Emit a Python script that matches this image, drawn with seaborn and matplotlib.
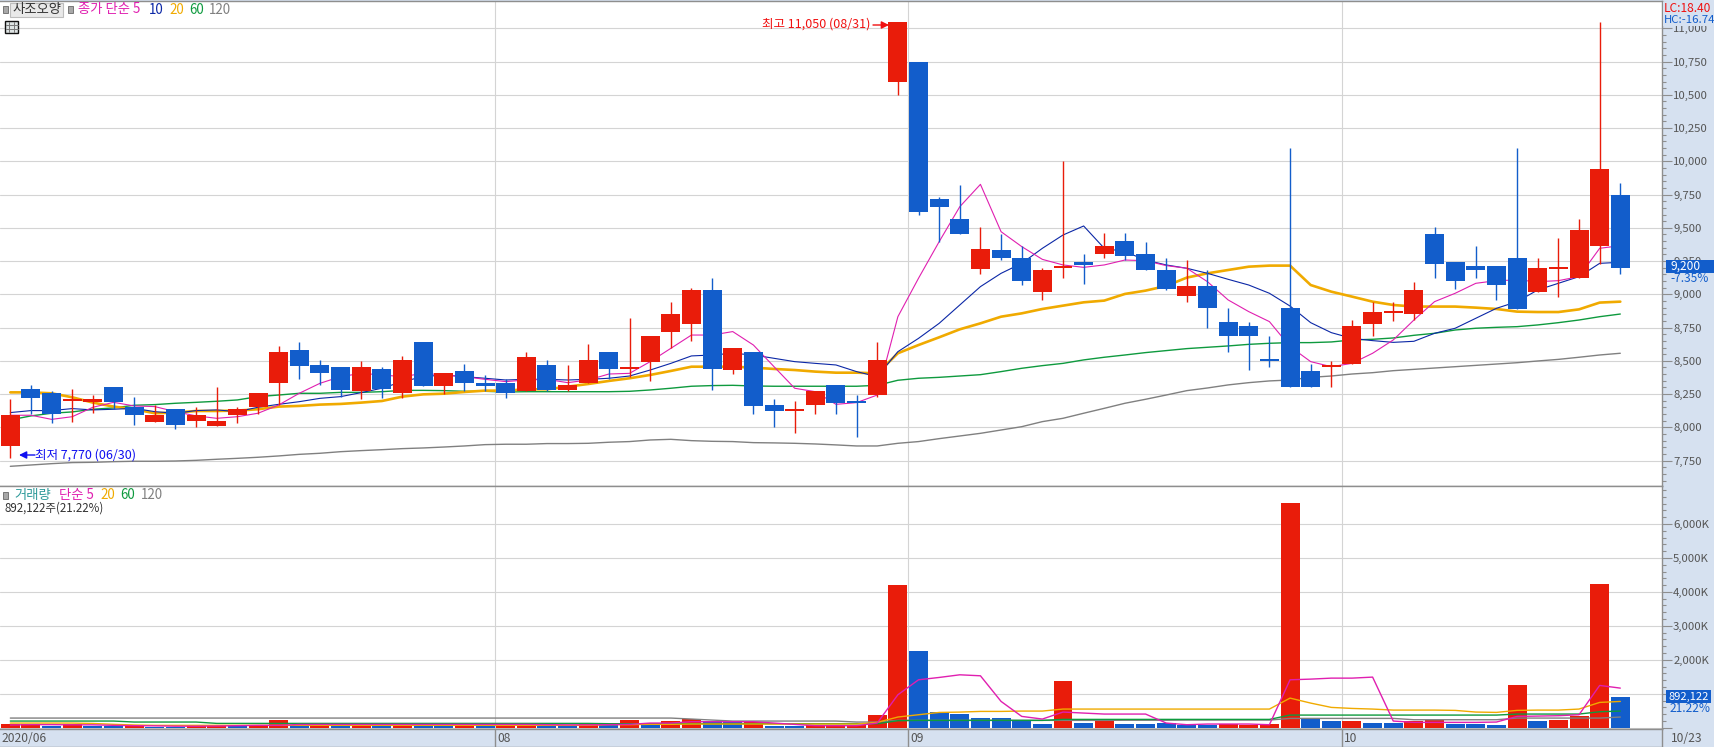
import matplotlib
matplotlib.use("Agg")
import matplotlib.pyplot as plt
from matplotlib.lines import Line2D
from matplotlib.patches import Rectangle, FancyArrowPatch
from matplotlib.ticker import FuncFormatter, MultipleLocator
import numpy as np
import pandas as pd
import seaborn as sns

opens = [7860,8290,8260,8200,8190,8300,8150,8040,8140,8050,8010,8090,8150,8330,8580,8470,8450,8270,8440,8260,
         8640,8310,8420,8330,8330,8270,8470,8280,8330,8570,8440,8490,8720,8780,9030,8430,8570,8170,8120,8170,
         8320,8200,8240,10600,10750,9720,9570,9190,9330,9270,9020,9200,9240,9300,9400,9300,9180,8990,9060,8790,
         8760,8510,8900,8420,8450,8480,8780,8860,8850,9450,9240,9210,9210,9270,9020,9190,9120,9360,9750]
closes = [8090,8220,8100,8210,8210,8190,8090,8090,8020,8090,8050,8140,8260,8570,8460,8410,8280,8450,8290,8510,
          8310,8410,8330,8310,8260,8530,8280,8320,8510,8440,8450,8690,8850,9030,8440,8600,8160,8120,8140,8270,
          8180,8180,8510,11050,9620,9660,9450,9340,9270,9100,9180,9210,9220,9360,9290,9180,9040,9060,8900,8690,
          8690,8500,8300,8300,8470,8760,8870,8870,9030,9230,9100,9180,9070,8890,9200,9200,9480,9940,9200]
highs = [8210,8320,8270,8290,8240,8300,8230,8170,8140,8150,8300,8150,8260,8610,8640,8510,8450,8500,8450,8540,
         8640,8410,8480,8390,8360,8570,8510,8470,8630,8570,8820,8690,8940,9050,9120,8600,8570,8210,8200,8270,
         8320,8240,8640,11050,10750,9730,9820,9510,9450,9360,9200,10000,9300,9460,9460,9390,9270,9260,9180,8900,
         8790,8690,10100,8480,8500,8810,8940,8940,9090,9510,9240,9360,9210,10100,9270,9420,9570,11050,9840]
lows = [7770,8100,8030,8040,8110,8140,8020,8040,7990,8000,8010,8030,8100,8170,8360,8320,8230,8210,8220,8220,
        8310,8250,8270,8270,8220,8270,8270,8270,8330,8360,8380,8350,8600,8650,8280,8400,8100,8000,7960,8100,
        8100,7930,8230,10500,9600,9390,9450,9150,9260,9070,8960,9120,9080,9270,9260,9180,9030,8940,8750,8570,
        8430,8450,8300,8300,8300,8480,8690,8800,8810,9120,9040,9120,8960,8890,9020,8980,9120,9230,9150]

ma5 = [8091,8091,8060,8080,8151,8188,8161,8156,8118,8086,8068,8080,8106,8168,8256,8331,8381,8406,8394,8381,
       8406,8394,8381,8361,8344,8356,8361,8336,8356,8401,8406,8494,8594,8694,8694,8720,8619,8456,8294,8268,
       8173,8186,8243,8832,9121,9396,9659,9827,9471,9359,9263,9221,9203,9221,9258,9253,9216,9196,9095,8958,
       8870,8795,8607,8494,8456,8481,8557,8657,8807,8945,9008,9083,9103,9108,9095,9103,9133,9346,9366]
ma10 = [8111,8126,8126,8141,8131,8136,8143,8118,8106,8126,8131,8118,8151,8173,8193,8218,8231,8261,8294,8344,
        8381,8394,8381,8369,8356,8361,8361,8356,8361,8369,8386,8431,8481,8537,8544,8557,8544,8519,8494,8481,
        8469,8419,8381,8569,8669,8782,8920,9058,9158,9233,9346,9446,9514,9346,9321,9258,9221,9196,9158,9113,
        9070,9008,8912,8787,8712,8669,8652,8639,8647,8707,8745,8820,8895,8945,9033,9083,9133,9233,9241]
ma20 = [8263,8263,8256,8226,8186,8156,8136,8106,8111,8123,8123,8126,8136,8156,8161,8171,8176,8186,8198,8231,
        8248,8253,8266,8276,8276,8286,8286,8306,8326,8349,8369,8394,8424,8456,8456,8456,8449,8439,8431,8419,
        8411,8411,8406,8557,8619,8677,8737,8782,8832,8857,8890,8915,8940,8953,9003,9028,9063,9126,9158,9183,
        9208,9216,9216,9070,9020,8983,8945,8920,8908,8908,8908,8900,8890,8870,8867,8867,8887,8938,8945]
ma60 = [8056,8086,8106,8116,8136,8146,8166,8171,8181,8188,8196,8206,8231,8243,8256,8256,8263,8263,8268,8278,
        8278,8276,8271,8271,8266,8268,8268,8268,8268,8268,8271,8281,8294,8309,8314,8316,8311,8309,8309,8309,
        8309,8309,8316,8354,8369,8376,8386,8396,8419,8444,8464,8481,8507,8527,8544,8562,8577,8592,8602,8612,
        8624,8632,8637,8637,8642,8657,8662,8672,8692,8707,8732,8745,8752,8757,8770,8787,8807,8832,8852]
ma120 = [7707,7717,7727,7735,7737,7742,7745,7745,7747,7752,7760,7767,7775,7785,7797,7805,7817,7825,7832,7840,
         7845,7852,7860,7870,7873,7873,7878,7878,7880,7888,7893,7905,7910,7900,7895,7893,7885,7883,7880,7875,
         7868,7860,7860,7880,7893,7915,7935,7955,7980,8005,8043,8068,8106,8143,8181,8211,8243,8276,8296,8319,
         8336,8349,8356,8376,8386,8401,8411,8426,8436,8446,8456,8466,8476,8486,8499,8511,8527,8544,8557]

volumes = [118,118,59,118,59,59,59,30,30,59,90,59,59,235,59,59,59,118,59,59,
           59,118,59,59,59,118,59,59,118,118,235,118,206,255,206,176,176,59,59,88,
           88,88,382,4200,2264,460,412,294,294,206,118,1382,147,235,118,118,137,88,88,108,
           69,118,6610,274,206,206,147,147,206,235,118,118,88,1264,206,235,353,4234,892]
vol_dir = list("RRBRBBRBBRRBRRBRBRBRBBRBRRBBRBRBRRBBRBBRRRRRBBBBBBBRBRBBBBBRRRRBBRBBRRBBBRBRRRB")
vma5 = [80,90,90,85,85,70,60,55,45,45,50,60,70,70,95,98,98,98,98,98,
        98,98,98,98,98,98,90,85,85,90,98,137,137,176,176,176,176,137,98,59,
        59,59,137,970,1411,1480,1558,1529,774,333,255,461,431,402,402,402,137,88,108,108,
        108,88,1411,1431,1460,1460,1490,196,157,157,157,157,167,333,343,353,382,1245,1166]
vma20 = [137,137,137,137,125,100,80,70,70,70,70,70,70,70,70,70,70,70,70,70,
         70,70,70,70,70,70,70,70,70,90,90,100,100,108,108,108,108,108,108,108,
         108,108,157,314,382,450,460,480,480,490,490,549,549,549,549,549,549,549,549,549,
         549,549,872,725,598,568,549,519,519,519,510,461,451,510,519,519,549,745,774]
vma60 = [196,196,196,196,196,196,167,167,167,167,127,127,127,127,127,127,127,127,127,127,
         127,127,127,127,127,127,127,127,127,118,118,118,118,118,118,118,118,118,118,118,
         118,118,118,206,216,216,216,216,216,216,216,245,245,245,245,245,245,245,245,245,
         245,245,372,372,372,372,372,372,372,372,372,372,372,402,402,402,402,470,490]
vma120 = [284,284,284,284,284,284,284,284,284,284,284,284,284,284,284,284,284,284,284,284,
          284,284,284,284,284,284,284,284,284,284,284,284,284,255,225,196,196,196,196,196,
          196,167,167,216,216,216,216,216,216,216,216,216,216,216,220,220,220,225,225,225,
          225,225,274,274,274,274,274,274,235,235,235,235,235,284,284,284,284,284,314]

month_breaks = [23.5, 43.5, 64.5]
month_labels = ["08", "09", "10"]
price_ticks = [7750,8000,8250,8500,8750,9000,9250,9500,9750,10000,10250,10500,10750,11000]
vol_ticks = [0,1000,2000,3000,4000,5000,6000]

W, H = 1715, 750
RED, BLUE = "#E91C0A", "#125DCB"
MAG, NAVY, ORA, GRN, GRY = "#E01FB0", "#0B27A6", "#F0AA00", "#0E9A3E", "#808080"
PANEL, GRID, EDGE, TXT = "#D6E1F0", "#D4D4D4", "#8E8E8E", "#555555"
FONT = ["Noto Sans CJK KR", "DejaVu Sans"]
AXFS = 8.2

sns.set_theme(style="white")
plt.rcParams["font.family"] = FONT
plt.rcParams["axes.unicode_minus"] = False

fig = plt.figure(figsize=(W / 100, H / 100), dpi=100, facecolor=PANEL)

def box(x0, y0, x1, y1):
    return [x0 / W, 1 - y1 / H, (x1 - x0) / W, (y1 - y0) / H]

PLOT_R = 1662
ax = fig.add_axes(box(0, 1, PLOT_R, 486), facecolor="white")
av = fig.add_axes(box(0, 486, PLOT_R, 729), facecolor="white")
ad = fig.add_axes(box(0, 729, PLOT_R, 747), facecolor=PANEL)
fig.patches.append(Rectangle((0, 0), 1, 3 / H, transform=fig.transFigure, fc="white", ec="none"))

idx = np.arange(len(opens))
xlim = (-0.5, 80.02)

for a in (ax, av, ad):
    a.set_xlim(*xlim)
    for s in a.spines.values():
        s.set_color(EDGE)
        s.set_linewidth(1.0)
    a.spines["left"].set_visible(False)
    a.set_xticks(month_breaks)
    a.set_xticklabels([])
    a.tick_params(axis="x", length=0)

# price panel
ax.set_ylim(7559, 11205.5)
for a in (ax, av):
    a.yaxis.tick_right()
    a.grid(True, axis="both", color=GRID, linewidth=0.8, zorder=0)
    a.set_axisbelow(True)
ax.set_yticks(price_ticks)
ax.yaxis.set_major_formatter(FuncFormatter(lambda v, _: f"{int(v):,}"))
ax.yaxis.set_minor_locator(MultipleLocator(50))
ax.tick_params(axis="y", which="major", length=7, width=0.8, color=EDGE, labelsize=AXFS, labelcolor=TXT, pad=1, right=True)
ax.tick_params(axis="y", which="minor", length=3, width=0.8, color=EDGE, right=True)

for vals, col, lw in ((ma120, GRY, 1.0), (ma60, GRN, 1.0), (ma20, ORA, 1.9), (ma10, NAVY, 0.8), (ma5, MAG, 0.8)):
    sns.lineplot(x=idx, y=vals, color=col, linewidth=lw, ax=ax, estimator=None, sort=False, legend=False, zorder=3)
ax.set_xlabel("")
ax.set_ylabel("")

o, c = np.array(opens), np.array(closes)
up = c >= o
ccol = np.where(up, RED, BLUE)
ax.vlines(idx, lows, highs, colors=ccol, linewidth=1.0, zorder=4)
ax.bar(idx, np.maximum(np.abs(c - o), 14), bottom=np.minimum(o, c), width=0.92,
       color=ccol, linewidth=0, zorder=5, antialiased=False)

# volume panel
av.set_ylim(-38, 7118)
df = pd.DataFrame({"i": idx, "vol": volumes, "dir": vol_dir})
sns.barplot(data=df, x="i", y="vol", hue="dir", palette={"R": RED, "B": BLUE}, native_scale=True, dodge=False,
            width=0.92, saturation=1, legend=False, ax=av, linewidth=0, antialiased=False, zorder=3)
for vals, col, lw in ((vma120, GRY, 1.0), (vma60, GRN, 1.0), (vma20, ORA, 1.0), (vma5, MAG, 1.0)):
    sns.lineplot(x=idx, y=vals, color=col, linewidth=lw, ax=av, estimator=None, sort=False, legend=False, zorder=4)
av.set_xlim(*xlim)
av.set_xlabel("")
av.set_ylabel("")
av.set_xticks(month_breaks)
av.set_xticklabels([])
av.set_yticks(vol_ticks)
# the 1,000K label sits behind the current-volume flag in the reference
av.yaxis.set_major_formatter(FuncFormatter(lambda v, _: f"{int(v):,}K" if v > 0 else ""))
av.yaxis.set_minor_locator(MultipleLocator(200))
av.tick_params(axis="y", which="major", length=7, width=0.8, color=EDGE, labelsize=AXFS, labelcolor=TXT, pad=1, right=True)
av.tick_params(axis="y", which="minor", length=3, width=0.8, color=EDGE, right=True)

# date strip
ad.set_ylim(0, 1)
ad.set_yticks([])
ad.vlines(month_breaks, 0, 1, colors=EDGE, linewidth=1.0)
ad.text(-0.45, 0.45, "2020/06", fontsize=8.7, color=TXT, va="center", ha="left")
for b, lab in zip(month_breaks, month_labels):
    ad.annotate(lab, xy=(b, 0.45), xytext=(2, 0), textcoords="offset pixels", fontsize=8.7, color=TXT, va="center", ha="left")

def T(x, y, s, color=TXT, size=9, ha="left", **kw):
    return fig.text(x / W, 1 - y / H, s, color=color, fontsize=size, ha=ha, va="center", zorder=20, **kw)

def R(x0, y0, x1, y1, fc, ec="none", lw=0.0):
    fig.add_artist(Rectangle((x0 / W, 1 - y1 / H), (x1 - x0) / W, (y1 - y0) / H, transform=fig.transFigure,
                             fc=fc, ec=ec, lw=lw, zorder=15))

T(1671, 738, "10/23", size=8.7)

# header of price panel
R(3, 6, 8, 13, "#A8A8A8", "#777777", 0.7)
R(10.5, 3, 63.5, 16.5, "#E9E9E9", "#BDBDBD", 0.8)
T(37, 9.5, "사조오양", color="#333333", size=9.6, ha="center")
R(67.5, 6, 72.5, 13, "#A8A8A8", "#777777", 0.7)
T(78.5, 9.5, "종가 단순 5", color=MAG, size=9.6)
T(149, 9.5, "10", color=NAVY, size=9.6)
T(169, 9.5, "20", color=ORA, size=9.6)
T(189, 9.5, "60", color=GRN, size=9.6)
T(209, 9.5, "120", color=GRY, size=9.6)
R(5.5, 21, 18.5, 33, "#DDE3E3", "#111111", 1.0)
for gx in (9.5, 14):
    fig.add_artist(Line2D([gx / W, gx / W], [1 - 22 / H, 1 - 32 / H], color="#777777", lw=0.7, zorder=16))
for gy in (24.5, 28.5):
    fig.add_artist(Line2D([6 / W, 18 / W], [1 - gy / H, 1 - gy / H], color="#777777", lw=0.7, zorder=16))

# extreme labels
T(762.5, 24, "최고 11,050 (08/31)", color="#F01010", size=9)
fig.add_artist(FancyArrowPatch((873 / W, 1 - 25 / H), (889 / W, 1 - 25 / H), transform=fig.transFigure,
               arrowstyle="-|>", mutation_scale=11, color="#F01010", lw=1.0, shrinkA=0, shrinkB=0, zorder=16))
fig.add_artist(FancyArrowPatch((35 / W, 1 - 455 / H), (19 / W, 1 - 455 / H), transform=fig.transFigure,
               arrowstyle="-|>", mutation_scale=11, color="#1010F0", lw=1.0, shrinkA=0, shrinkB=0, zorder=16))
T(35, 455, "최저 7,770 (06/30)", color="#1010F0", size=9)

# right panel flags
R(1663, 2, 1715, 26, PANEL)
T(1664, 8, "LC:18.40", color="#F01010", size=8.6)
T(1664, 20, "HC:-16.74", color=BLUE, size=8.2)
R(1666.5, 260, 1715, 273, BLUE)
T(1671, 266.5, "9,200", color="white", size=8.6)
T(1670, 278.5, "-7.35%", color=BLUE, size=8.6)
R(1666.5, 690, 1711, 703, BLUE)
T(1669, 696.5, "892,122", color="white", size=8)
T(1670, 709, "21.22%", color=BLUE, size=8.6)

# header of volume panel
R(3, 491.5, 8, 498.5, "#A8A8A8", "#777777", 0.7)
T(14, 495, "거래량", color="#2E9A9A", size=9.6)
T(59, 495, "단순 5", color=MAG, size=9.6)
T(100.5, 495, "20", color=ORA, size=9.6)
T(120.5, 495, "60", color=GRN, size=9.6)
T(141, 495, "120", color=GRY, size=9.6)
T(4.5, 508.5, "892,122주(21.22%)", color="#333333", size=8.3)

fig.savefig("out.png", dpi=100, facecolor=fig.get_facecolor())
